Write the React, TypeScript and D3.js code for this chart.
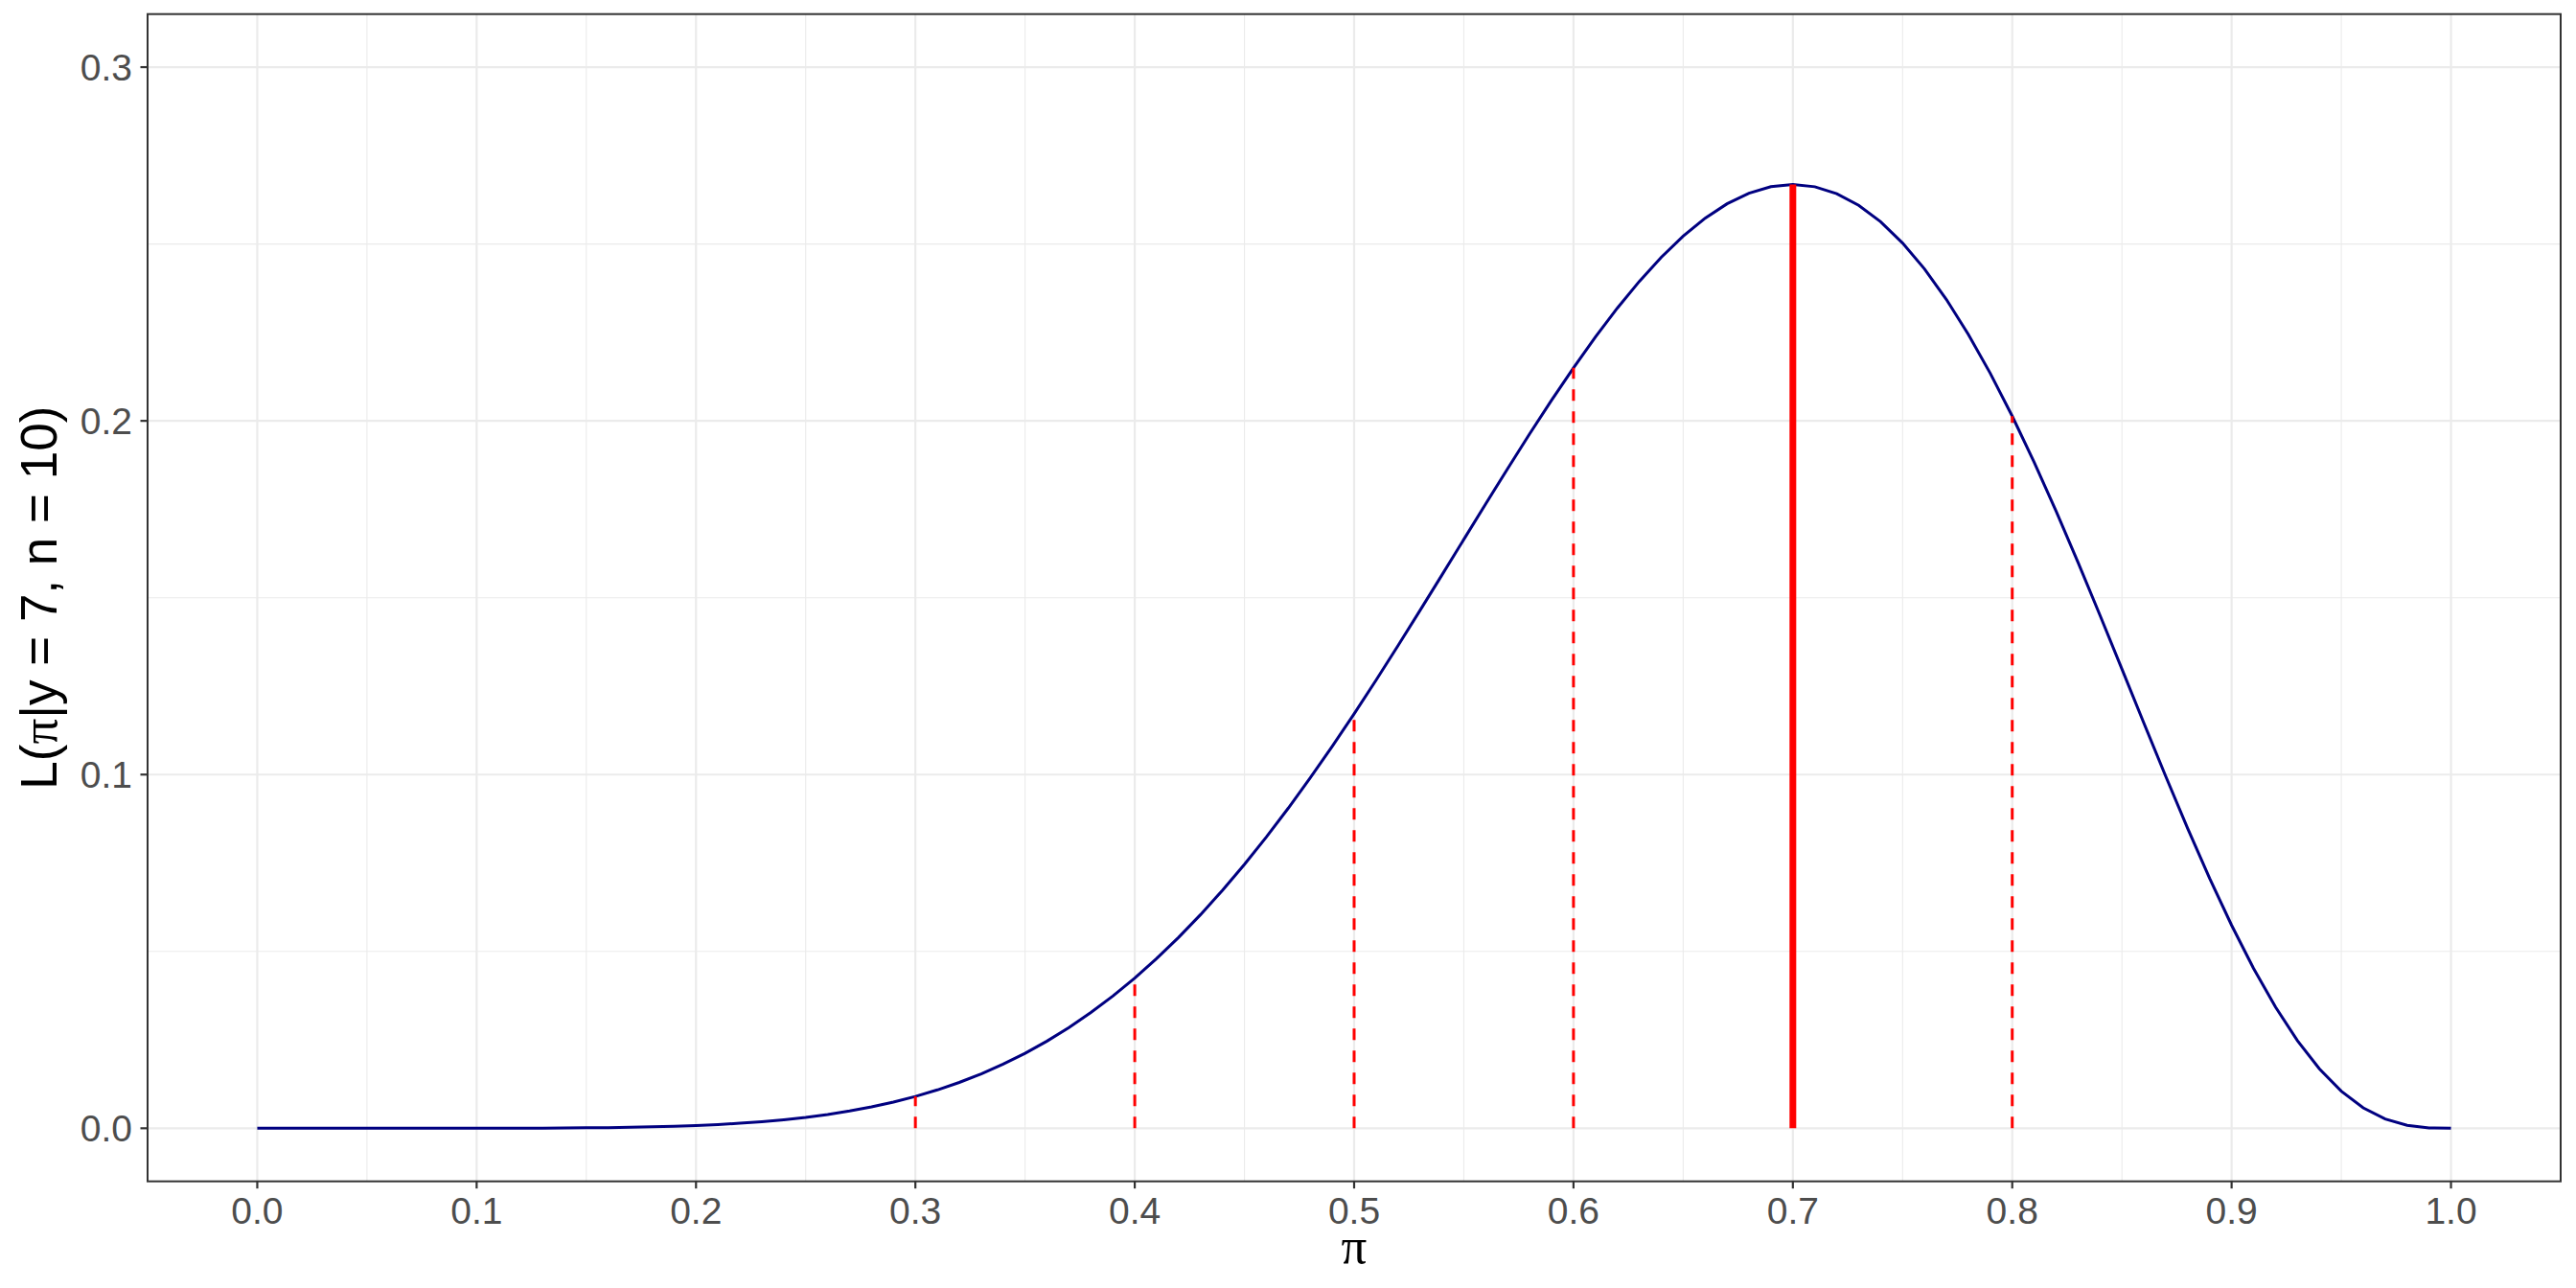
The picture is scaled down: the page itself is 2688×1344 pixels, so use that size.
import React from "react";
import * as d3 from "d3";

// π values (0.00 .. 1.00 step 0.01) and likelihood
const piValues: number[] = [
  0.00, 0.01, 0.02, 0.03, 0.04, 0.05, 0.06, 0.07, 0.08, 0.09,
  0.10, 0.11, 0.12, 0.13, 0.14, 0.15, 0.16, 0.17, 0.18, 0.19,
  0.20, 0.21, 0.22, 0.23, 0.24, 0.25, 0.26, 0.27, 0.28, 0.29,
  0.30, 0.31, 0.32, 0.33, 0.34, 0.35, 0.36, 0.37, 0.38, 0.39,
  0.40, 0.41, 0.42, 0.43, 0.44, 0.45, 0.46, 0.47, 0.48, 0.49,
  0.50, 0.51, 0.52, 0.53, 0.54, 0.55, 0.56, 0.57, 0.58, 0.59,
  0.60, 0.61, 0.62, 0.63, 0.64, 0.65, 0.66, 0.67, 0.68, 0.69,
  0.70, 0.71, 0.72, 0.73, 0.74, 0.75, 0.76, 0.77, 0.78, 0.79,
  0.80, 0.81, 0.82, 0.83, 0.84, 0.85, 0.86, 0.87, 0.88, 0.89,
  0.90, 0.91, 0.92, 0.93, 0.94, 0.95, 0.96, 0.97, 0.98, 0.99, 1.00,
];
const likelihood: number[] = [
  0, 0, 0, 0, 0, 0, 0, 0.000001, 0.000002, 0.000004,
  0.0000087, 0.0000165, 0.0000293, 0.0000496, 0.0000805, 0.000126, 0.000191, 0.000282, 0.000405, 0.00057,
  0.000786, 0.001066, 0.00142, 0.001865, 0.002416, 0.00309, 0.003906, 0.004883, 0.006043, 0.007409,
  0.009002, 0.010846, 0.012965, 0.015382, 0.01812, 0.021203, 0.024651, 0.028485, 0.032722, 0.037379,
  0.042467, 0.047999, 0.053977, 0.060407, 0.067284, 0.074603, 0.082351, 0.090509, 0.099056, 0.10796,
  0.117188, 0.126695, 0.136435, 0.146353, 0.156391, 0.16648, 0.176544, 0.186514, 0.196302, 0.205825,
  0.214991, 0.223709, 0.231886, 0.239425, 0.246235, 0.25222, 0.257292, 0.261365, 0.264359, 0.266203,
  0.266828, 0.266185, 0.26423, 0.260935, 0.256285, 0.250282, 0.242946, 0.234314, 0.224447, 0.213416,
  0.201327, 0.188294, 0.174461, 0.159984, 0.145043, 0.129834, 0.114566, 0.099459, 0.084743, 0.070646,
  0.057396, 0.045206, 0.034274, 0.024766, 0.016809, 0.010475, 0.005771, 0.002618, 0.000833, 0.000112, 0,
];

// marked π values: dashed segments and the maximum (solid)
const dashedPi: number[] = [0.3, 0.4, 0.5, 0.6, 0.8];
const dashedL: number[] = [0.009002, 0.042467, 0.117188, 0.214991, 0.201327];
const maxPi: number[] = [0.7];
const maxL: number[] = [0.266828];

const xTicks: number[] = [0, 0.1, 0.2, 0.3, 0.4, 0.5, 0.6, 0.7, 0.8, 0.9, 1.0];
const xMinor: number[] = [0.05, 0.15, 0.25, 0.35, 0.45, 0.55, 0.65, 0.75, 0.85, 0.95];
const yTicks: number[] = [0, 0.1, 0.2, 0.3];
const yMinor: number[] = [0.05, 0.15, 0.25];

const W = 2688;
const H = 1344;
const panel = { left: 154, right: 2672, top: 14.7, bottom: 1232.7 };

export default function App() {
  const x = d3.scaleLinear().domain([-0.05, 1.05]).range([panel.left, panel.right]);
  const y = d3.scaleLinear().domain([-0.015, 0.315]).range([panel.bottom, panel.top]);

  const pts = piValues.map((p, i) => [p, likelihood[i]] as [number, number]);
  const line = d3
    .line<[number, number]>()
    .x((d) => x(d[0]))
    .y((d) => y(d[1]));

  const grid = "#EBEBEB";
  const tickCol = "#333333";
  const labelCol = "#4D4D4D";
  const sans = "'Liberation Sans', Arial, sans-serif";
  const serif = "'Liberation Serif', 'Times New Roman', serif";
  const cy = (panel.top + panel.bottom) / 2;
  const cx = (panel.left + panel.right) / 2;

  return (
    <svg
      width={W}
      height={H}
      style={{ position: "absolute", left: 0, top: 0, background: "#fff" }}
    >
      <rect x={0} y={0} width={W} height={H} fill="#fff" />
      {/* minor grid */}
      {xMinor.map((v) => (
        <line key={"xm" + v} x1={x(v)} x2={x(v)} y1={panel.top} y2={panel.bottom} stroke={grid} strokeWidth={1.1} />
      ))}
      {yMinor.map((v) => (
        <line key={"ym" + v} x1={panel.left} x2={panel.right} y1={y(v)} y2={y(v)} stroke={grid} strokeWidth={1.1} />
      ))}
      {/* major grid */}
      {xTicks.map((v) => (
        <line key={"xg" + v} x1={x(v)} x2={x(v)} y1={panel.top} y2={panel.bottom} stroke={grid} strokeWidth={2.2} />
      ))}
      {yTicks.map((v) => (
        <line key={"yg" + v} x1={panel.left} x2={panel.right} y1={y(v)} y2={y(v)} stroke={grid} strokeWidth={2.2} />
      ))}

      {/* curve */}
      <path d={line(pts) || ""} fill="none" stroke="#000080" strokeWidth={3} />

      {/* dashed segments */}
      {dashedPi.map((p, i) => (
        <line
          key={"d" + p}
          x1={x(p)}
          x2={x(p)}
          y1={y(0)}
          y2={y(dashedL[i])}
          stroke="#FF0000"
          strokeWidth={3}
          strokeDasharray="12 11"
        />
      ))}
      {/* maximum */}
      {maxPi.map((p, i) => (
        <line key={"m" + p} x1={x(p)} x2={x(p)} y1={y(0)} y2={y(maxL[i])} stroke="#FF0000" strokeWidth={7} />
      ))}

      {/* panel border */}
      <rect
        x={panel.left}
        y={panel.top}
        width={panel.right - panel.left}
        height={panel.bottom - panel.top}
        fill="none"
        stroke={tickCol}
        strokeWidth={2}
      />

      {/* x axis ticks & labels */}
      {xTicks.map((v) => (
        <g key={"xt" + v}>
          <line x1={x(v)} x2={x(v)} y1={panel.bottom} y2={panel.bottom + 7.5} stroke={tickCol} strokeWidth={2.2} />
          <text x={x(v)} y={1277} textAnchor="middle" fontFamily={sans} fontSize={39} fill={labelCol}>
            {v.toFixed(1)}
          </text>
        </g>
      ))}
      {/* y axis ticks & labels */}
      {yTicks.map((v) => (
        <g key={"yt" + v}>
          <line x1={panel.left - 7.5} x2={panel.left} y1={y(v)} y2={y(v)} stroke={tickCol} strokeWidth={2.2} />
          <text x={138} y={y(v) + 14} textAnchor="end" fontFamily={sans} fontSize={39} fill={labelCol}>
            {v.toFixed(1)}
          </text>
        </g>
      ))}

      {/* axis titles */}
      <text x={cx} y={1318} textAnchor="middle" fontFamily={serif} fontSize={53} fill="#000">
        π
      </text>
      <text
        transform={`translate(59, ${cy}) rotate(-90)`}
        textAnchor="middle"
        fontFamily={sans}
        fontSize={53}
        fill="#000"
      >
        L(<tspan fontFamily={serif}>π</tspan>|y = 7, n = 10)
      </text>
    </svg>
  );
}
